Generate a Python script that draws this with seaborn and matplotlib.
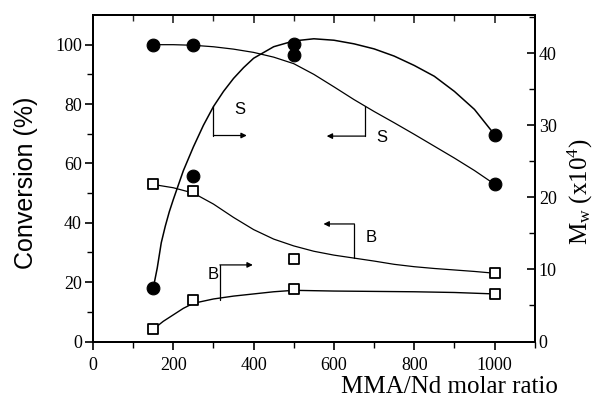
import numpy as np
import pandas as pd
import matplotlib
matplotlib.use("Agg")
import matplotlib.pyplot as plt
import seaborn as sns

# ---- measured points ----
ratio = [150, 250, 500, 1000]
conv_S = [100.0, 100.0, 96.6, 52.9]          # conversion (%) S, left axis
mw_S = [7.4, 23.0, 41.3, 28.7]               # Mw (x10^4) S, right axis
conv_B = [52.9, 50.6, 27.8, 23.0]            # conversion (%) B, left axis
mw_B = [1.7, 5.7, 7.3, 6.6]                  # Mw (x10^4) B, right axis

# ---- fitted curves ----
curve_conv_S_x = [150, 200, 250, 300, 350, 400, 450, 500, 550, 600, 650, 700, 750, 800, 850, 900, 950, 1000]
curve_conv_S_y = [100.0, 100.0, 99.8, 99.3, 98.5, 97.4, 95.8, 93.6, 90.0, 85.8, 81.5, 77.5, 73.7, 69.8, 65.8, 61.8, 57.6, 53.0]

curve_mw_S_x = [150, 160, 170, 180, 190, 200, 210, 225, 250, 275, 300, 325, 350, 375, 400, 450, 500, 550, 600, 650, 700, 750, 800, 850, 900, 950, 1000]
curve_mw_S_y = [7.4, 10.2, 13.7, 16.0, 18.0, 19.7, 21.3, 23.7, 27.0, 30.0, 32.6, 34.7, 36.5, 38.0, 39.3, 40.9, 41.7, 42.0, 41.8, 41.3, 40.6, 39.6, 38.3, 36.8, 34.7, 32.2, 28.7]

curve_conv_B_x = [150, 200, 250, 300, 350, 400, 450, 500, 550, 600, 650, 700, 750, 800, 850, 900, 950, 1000]
curve_conv_B_y = [52.9, 51.8, 50.0, 46.3, 41.8, 37.7, 34.5, 32.2, 30.4, 29.1, 28.1, 27.1, 26.0, 25.2, 24.6, 24.1, 23.6, 23.0]

curve_mw_B_x = [150, 175, 200, 225, 250, 300, 350, 400, 450, 500, 550, 600, 700, 800, 900, 1000]
curve_mw_B_y = [1.7, 2.8, 3.7, 4.6, 5.3, 5.9, 6.3, 6.6, 6.9, 7.1, 7.05, 7.0, 6.95, 6.9, 6.8, 6.6]

# ---- annotation brackets (left-axis units)
ann_labels = ["S", "S", "B", "B"]
ann_xv = [300, 677, 651, 316]
ann_ytop = [79.3, 79.3, 39.6, 25.8]
ann_ybot = [69.4, 69.2, 28.1, 14.0]
ann_yarrow = [69.4, 69.2, 39.6, 25.8]
ann_xend = [383, 582, 574, 398]
ann_tx = [366, 719, 694, 300]
ann_ty = [78.2, 68.6, 34.9, 22.7]

x_ticks = [0, 200, 400, 600, 800, 1000]
left_ticks = [0, 20, 40, 60, 80, 100]
right_ticks = [0, 10, 20, 30, 40]

sns.set_theme(style="ticks")
plt.rcParams["font.family"] = ["Liberation Serif", "DejaVu Serif"]
plt.rcParams["mathtext.fontset"] = "custom"
plt.rcParams["mathtext.rm"] = "Liberation Serif"
plt.rcParams["mathtext.it"] = "Liberation Serif:italic"

fig = plt.figure(figsize=(6.06, 4.05), dpi=100)
ax = fig.add_axes([93 / 606, 1 - 341.5 / 405, 441.7 / 606, 326.5 / 405])
ax2 = ax.twinx()

lc = "black"
sns.lineplot(x=curve_conv_S_x, y=curve_conv_S_y, ax=ax, color=lc, lw=0.9, sort=False)
sns.lineplot(x=curve_conv_B_x, y=curve_conv_B_y, ax=ax, color=lc, lw=0.9, sort=False)
sns.lineplot(x=curve_mw_S_x, y=curve_mw_S_y, ax=ax2, color=lc, lw=1.1, sort=False)
sns.lineplot(x=curve_mw_B_x, y=curve_mw_B_y, ax=ax2, color=lc, lw=1.0, sort=False)

sns.scatterplot(x=ratio, y=conv_S, ax=ax, marker="o", s=85, color="black", edgecolor="black", zorder=5)
sns.scatterplot(x=ratio, y=conv_B, ax=ax, marker="s", s=55, facecolor="white", edgecolor="black", linewidth=1.3, zorder=5)
sns.scatterplot(x=ratio, y=mw_S, ax=ax2, marker="o", s=85, color="black", edgecolor="black", zorder=5)
sns.scatterplot(x=ratio, y=mw_B, ax=ax2, marker="s", s=55, facecolor="white", edgecolor="black", linewidth=1.3, zorder=5)

ax.set_xlim(0, 1100)
ax.set_ylim(0, 110)
ax2.set_ylim(0, 45.3)

ax.set_xticks(x_ticks)
ax.set_xticks([100, 300, 500, 700, 900, 1100], minor=True)
ax.set_yticks(left_ticks)
ax.set_yticks([10, 30, 50, 70, 90], minor=True)
ax2.set_yticks(right_ticks)
ax2.set_yticks([5, 15, 25, 35, 45], minor=True)

for a in (ax, ax2):
    for s in a.spines.values():
        s.set_linewidth(1.4)
        s.set_color("black")

ax.tick_params(axis="both", which="major", direction="out", length=6, width=1.2, labelsize=13, colors="black", pad=2)
ax.tick_params(axis="x", which="major", pad=5)
ax.tick_params(axis="both", which="minor", direction="out", length=4, width=1.0, colors="black")
ax2.tick_params(axis="y", which="major", direction="in", length=6, width=1.2, labelsize=13, colors="black", pad=3)
ax2.tick_params(axis="y", which="minor", direction="in", length=4, width=1.0, colors="black")

top = ax.secondary_xaxis("top")
top.set_xticks(x_ticks)
top.set_xticks([100, 300, 500, 700, 900], minor=True)
top.tick_params(which="major", direction="in", length=6, width=1.2, labeltop=False)
top.tick_params(which="minor", direction="in", length=4, width=1.0)
top.spines["top"].set_linewidth(1.4)

ax.set_ylabel("Conversion (%)", family=["Liberation Sans", "DejaVu Sans"], fontsize=18, color="black")
ax.yaxis.set_label_coords(-0.125, 0.487)
ax2.set_ylabel(r"M$_\mathregular{w}$ (x10$^\mathregular{4}$)", fontsize=18, color="black")
ax2.yaxis.set_label_coords(1.07, 0.46)
ax.set_xlabel("")
fig.text(558 / 606, 1 - 387 / 405, "MMA/Nd molar ratio", ha="right", va="center", fontsize=18, color="black")

for lab, xv, yt, yb, ya, xe, tx, ty in zip(ann_labels, ann_xv, ann_ytop, ann_ybot, ann_yarrow, ann_xend, ann_tx, ann_ty):
    ax.plot([xv, xv], [yt, yb], color="black", lw=0.9)
    ax.annotate("", xy=(xe, ya), xytext=(xv, ya),
                arrowprops=dict(arrowstyle="-|>", color="black", lw=0.9, mutation_scale=8, shrinkA=0, shrinkB=0))
    ax.text(tx, ty, lab, family=["Liberation Sans", "DejaVu Sans"], fontsize=12, ha="center", va="center", color="black")

fig.savefig("out.png", dpi=100)
